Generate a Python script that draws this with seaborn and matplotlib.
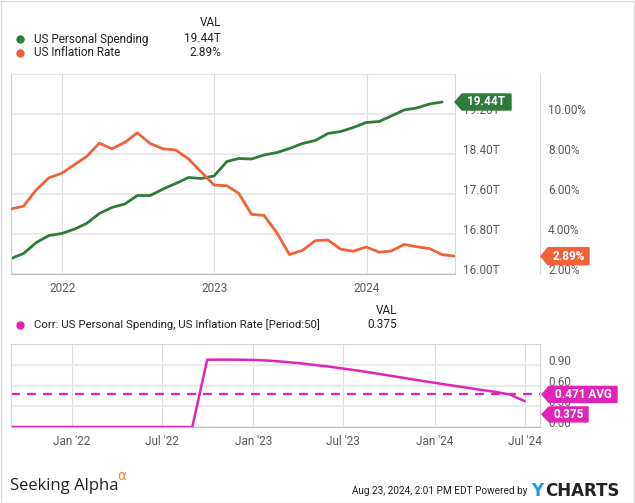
import numpy as np
import pandas as pd
import seaborn as sns
import matplotlib.pyplot as plt
import matplotlib.dates as mdates
from matplotlib.patches import Polygon, Rectangle
from matplotlib.lines import Line2D
from matplotlib.transforms import ScaledTranslation, IdentityTransform

sns.set_style("white")
plt.rcParams["font.family"] = ["Roboto", "DejaVu Sans"]

W, H = 635, 503
GREEN = "#2e7b3c"
ORANGE = "#f0623a"
MAGENTA = "#e024b8"
TICK = "#5a5a5a"

# monthly values, Aug 2021 onwards (month-end)
spending = [16.31, 16.41, 16.63, 16.77, 16.81,
            16.90, 17.01, 17.21, 17.33, 17.40, 17.57, 17.57, 17.70, 17.81, 17.93, 17.91, 17.96,
            18.25, 18.31, 18.30, 18.38, 18.43, 18.51, 18.61, 18.67, 18.81, 18.85, 18.93, 19.03,
            19.05, 19.16, 19.28, 19.32, 19.40, 19.44]
inflation = [5.25, 5.39, 6.22, 6.81, 7.04,
             7.48, 7.87, 8.54, 8.26, 8.58, 9.06, 8.52, 8.26, 8.20, 7.75, 7.11, 6.45,
             6.41, 6.04, 4.98, 4.93, 4.05, 2.97, 3.18, 3.67, 3.70, 3.24, 3.14, 3.35,
             3.09, 3.15, 3.48, 3.36, 3.27, 2.97, 2.89]
corr = [0.0] * 13 + [0.973, 0.974, 0.973, 0.970,
                     0.960, 0.945, 0.925, 0.900, 0.875, 0.845, 0.815, 0.780, 0.745, 0.710, 0.675, 0.640,
                     0.605, 0.575, 0.540, 0.510, 0.470, 0.375]
corr_avg = 0.471

spend_dates = pd.date_range("2021-08-31", periods=len(spending), freq="ME")
infl_dates = pd.date_range("2021-08-31", periods=len(inflation), freq="ME")
corr_dates = pd.date_range("2021-08-31", periods=len(corr), freq="ME")
x_start, x_end = pd.Timestamp("2021-08-31"), pd.Timestamp("2024-07-31")

spend_ticks = [16.0, 16.8, 17.6, 18.4, 19.2]
infl_ticks = [2, 4, 6, 8, 10]
corr_ticks = [0.0, 0.3, 0.6, 0.9]


def rect(x0, y0, x1, y1):
    return [x0 / W, 1 - y1 / H, (x1 - x0) / W, (y1 - y0) / H]


def lift(axis_labels, fig, px=5):
    off = ScaledTranslation(0, px / 100, fig.dpi_scale_trans)
    for lab in axis_labels:
        lab.set_transform(lab.get_transform() + off)


def badge(fig, tip_x, yc, width, text, color, h=16):
    # tip_x in figure pixels from left, yc in display coords (from bottom)
    pts = [(tip_x, yc), (tip_x + 7, yc + h / 2), (tip_x + width, yc + h / 2),
           (tip_x + width, yc - h / 2), (tip_x + 7, yc - h / 2)]
    fig.add_artist(Polygon(pts, closed=True, color=color, transform=IdentityTransform(), zorder=10))
    fig.text((tip_x + 7 + tip_x + width) / 2, yc, text, transform=IdentityTransform(),
             color="white", fontsize=8.5, fontweight="bold", ha="center", va="center", zorder=11)


fig = plt.figure(figsize=(W / 100, H / 100), dpi=100)

# upper panel
ax = fig.add_axes(rect(11, 74, 455, 274))
ax2 = ax.twinx()
sns.lineplot(x=spend_dates, y=spending, ax=ax, color=GREEN, lw=2)
sns.lineplot(x=infl_dates, y=inflation, ax=ax2, color=ORANGE, lw=2)
ax.set_xlim(x_start, x_end)
ax.set_ylim(16, 20)
ax2.set_ylim(2, 12)
ax.set_yticks(spend_ticks)
ax.set_yticklabels([f"{v:.2f}T" for v in spend_ticks])
ax2.set_yticks(infl_ticks)
ax2.set_yticklabels([f"{v:.2f}%" for v in infl_ticks])
ax.yaxis.tick_right()
ax.tick_params(axis="y", length=0, pad=6, labelsize=8.5, labelcolor=TICK)
ax2.tick_params(axis="y", length=0, pad=67, labelsize=8.5, labelcolor=TICK)
ax.xaxis.set_major_locator(mdates.YearLocator())
ax.xaxis.set_major_formatter(mdates.DateFormatter("%Y"))
ax.tick_params(axis="x", length=0, pad=6, labelsize=8.5, labelcolor=TICK)
ax.set_xlabel("")
ax.set_ylabel("")
ax2.set_ylabel("")
ax.grid(axis="y", color="#ebebeb", lw=1.6)
ax.grid(axis="x", color="#dedede", lw=0.8)
ax2.grid(False)
for s in ax2.spines.values():
    s.set_visible(False)
ax.spines["top"].set_color("#e2e2e2")
ax.spines["right"].set_color("#d6d6d6")
ax.spines["left"].set_color("#cfcfcf")
ax.spines["bottom"].set_color("#bdbdbd")
lift(ax.get_yticklabels(), fig)
lift(ax2.get_yticklabels(), fig)

# lower panel
ax3 = fig.add_axes(rect(11, 344, 540, 427))
sns.lineplot(x=corr_dates, y=corr, ax=ax3, color=MAGENTA, lw=1.8)
ax3.axhline(corr_avg, color=MAGENTA, lw=1.6, ls=(0, (4, 3.2)))
ax3.set_xlim(x_start, x_end)
ax3.set_ylim(0, 1.2)
ax3.set_yticks(corr_ticks)
ax3.set_yticklabels([f"{v:.2f}" for v in corr_ticks])
ax3.yaxis.tick_right()
ax3.tick_params(axis="y", length=0, pad=6, labelsize=8.5, labelcolor=TICK)
ax3.xaxis.set_major_locator(mdates.MonthLocator(bymonth=[1, 7]))
ax3.xaxis.set_major_formatter(mdates.DateFormatter("%b '%y"))
ax3.tick_params(axis="x", length=0, pad=6, labelsize=8.5, labelcolor=TICK)
ax3.set_xlabel("")
ax3.set_ylabel("")
ax3.grid(axis="y", color="#ebebeb", lw=1.6)
ax3.grid(axis="x", color="#dedede", lw=0.8)
for s in ax3.spines.values():
    s.set_color("#d6d6d6")
ax3.spines["bottom"].set_color("#bdbdbd")
lift(ax3.get_yticklabels(), fig)

# separator line between the two right axes
fig.add_artist(Line2D([540 / W, 540 / W], [1 - 74 / H, 1 - 274 / H], color="#dcdcdc", lw=0.8,
                      transform=fig.transFigure))

# last-value badges
y_sp = ax.transData.transform((0, spending[-1]))[1]
y_in = ax2.transData.transform((0, inflation[-1]))[1]
y_avg = ax3.transData.transform((0, corr_avg))[1]
y_last = ax3.transData.transform((0, corr[-1]))[1]
badge(fig, 455, y_sp, 56, f"{spending[-1]:.2f}T", GREEN)
badge(fig, 541, y_in, 48, f"{inflation[-1]:.2f}%", ORANGE, h=17)
badge(fig, 542, y_avg, 75, f"{corr_avg:.3f} AVG", MAGENTA)
badge(fig, 542, min(y_last, y_avg - 20), 46, f"{corr[-1]:.3f}", MAGENTA, h=15)

# legends
def fx(x):
    return x / W


def fy(y):
    return 1 - y / H


fig.text(fx(221), fy(23), "VAL", ha="right", va="center", fontsize=8.5, color="#222")
fig.add_artist(Line2D([fx(20)], [fy(39)], marker="o", ms=5, color=GREEN, transform=fig.transFigure))
fig.add_artist(Line2D([fx(20)], [fy(53)], marker="o", ms=5, color=ORANGE, transform=fig.transFigure))
fig.text(fx(34), fy(39), "US Personal Spending", va="center", fontsize=8.5, color="#222")
fig.text(fx(34), fy(53), "US Inflation Rate", va="center", fontsize=8.5, color="#222")
fig.text(fx(221), fy(39), f"{spending[-1]:.2f}T", ha="right", va="center", fontsize=8.5, color="#222")
fig.text(fx(221), fy(53), f"{inflation[-1]:.2f}%", ha="right", va="center", fontsize=8.5, color="#222")

fig.text(fx(397), fy(311), "VAL", ha="right", va="center", fontsize=8.5, color="#222")
fig.add_artist(Line2D([fx(20)], [fy(325)], marker="o", ms=5, color=MAGENTA, transform=fig.transFigure))
fig.text(fx(34), fy(325), "Corr: US Personal Spending, US Inflation Rate [Period:50]",
         va="center", fontsize=8.2, color="#222")
fig.text(fx(397), fy(325), f"{corr[-1]:.3f}", ha="right", va="center", fontsize=8.5, color="#222")

# footer
fig.text(fx(10), fy(486), "Seeking Alpha", va="center", fontsize=12, color="#222",
         family=["Open Sans", "DejaVu Sans"])
fig.text(fx(117), fy(476), "α", va="center", fontsize=10, color="#f08a24",
         family=["DejaVu Sans"])
fig.text(fx(528), fy(491), "Aug 23, 2024, 2:01 PM EDT Powered by", ha="right", va="center",
         fontsize=7.2, color="#222")
fig.text(fx(531), fy(491), "Y", va="center", fontsize=12, fontweight="bold", color="#1e9bf0",
         family=["DejaVu Sans"])
fig.text(fx(545), fy(491), "CHARTS", va="center", fontsize=12, fontweight="bold", color="#222",
         family=["DejaVu Sans"])

# outer border
fig.add_artist(Rectangle((0.5 / W, 0.5 / H), 1 - 1.5 / W, 1 - 1.5 / H, fill=False,
                         edgecolor="#dcdcdc", lw=1, transform=fig.transFigure))

fig.savefig("out.png", dpi=100)
